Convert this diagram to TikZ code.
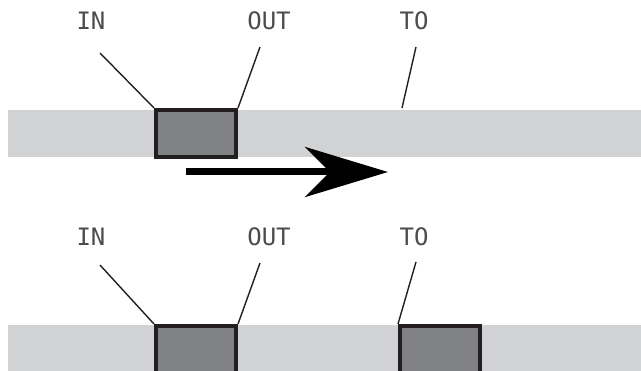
\documentclass[tikz,border=0pt]{standalone}
\usepackage{fontspec}
\setmonofont{DejaVu Sans Mono}
\usepackage{tikz}
\usetikzlibrary{arrows.meta, positioning}
\definecolor{bandgray}{RGB}{209,210,212}
\definecolor{boxgray}{RGB}{128,129,132}
\definecolor{edgegray}{RGB}{35,31,32}

\begin{document}
\begin{tikzpicture}[x=1pt, y=-1pt,
    blockbox/.style={draw=edgegray, fill=boxgray, line width=4pt, minimum width=80pt, minimum height=47pt, inner sep=0pt},
    tag/.style={font=\ttfamily\fontsize{24}{24}\selectfont, text=black!70},
    pointer/.style={line width=1.4pt, draw=edgegray}]
      \useasboundingbox (0,0) rectangle (641,371);
      \clip (0,0) rectangle (641,371);

      % top: before the move
      \fill[bandgray] (8,110) rectangle (641,157);
      \node[blockbox] (box1) at (196,133.5) {};
      \node[tag] (in1) at (91,21) {IN};
      \node[tag] (out1) at (269,21) {OUT};
      \node[tag] (to1) at (414,21) {TO};
      \coordinate (in1end) at (100,53);
      \coordinate (out1end) at (260,47);
      \coordinate (to1end) at (416,47);
      \coordinate (to1pt) at (402,108);
      \draw[pointer] (in1end) -- (box1.north west);
      \draw[pointer] (out1end) -- (box1.north east);
      \draw[pointer] (to1end) -- (to1pt);

      % the move
      \coordinate (arrstart) at (186,172);
      \coordinate (arrtip) at (388,172);
      \draw[line width=7pt, draw=black, -{Stealth[length=83pt 0, width=50pt 0, inset=25pt]}] (arrstart) -- (arrtip);

      % bottom: after the move
      \fill[bandgray] (8,325) rectangle (641,380);
      \node[blockbox] (box2) at (196,349.5) {};
      \node[blockbox] (box3) at (440,349.5) {};
      \node[tag] (in2) at (91,237) {IN};
      \node[tag] (out2) at (269,237) {OUT};
      \node[tag] (to2) at (414,237) {TO};
      \coordinate (in2end) at (100,265);
      \coordinate (out2end) at (260,263);
      \coordinate (to2end) at (416,262);
      \draw[pointer] (in2end) -- (box2.north west);
      \draw[pointer] (out2end) -- (box2.north east);
      \draw[pointer] (to2end) -- (box3.north west);
    \end{tikzpicture}
\end{document}
